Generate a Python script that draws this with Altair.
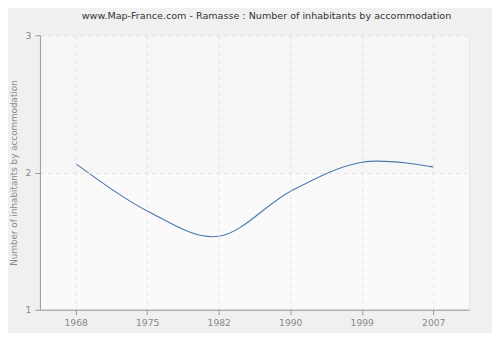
import altair as alt
import pandas as pd

years = ["1968", "1975", "1982", "1990", "1999", "2007"]
values = [2.065, 1.72, 1.535, 1.862, 2.075, 2.04]
band_lo = [2]
band_hi = [3]

df = pd.DataFrame({"year": years, "value": values})
bands = pd.DataFrame({"value": band_lo, "value2": band_hi})

FONT = "DejaVu Sans"

ydom = alt.Scale(domain=[1, 3], nice=False, zero=False)

yaxis = alt.Axis(title="Number of inhabitants by accommodation", tickCount=2,
                 format="d", grid=True, gridDash=[4, 4], gridColor="#e2e2e2",
                 domainColor="#999999", tickColor="#999999", tickSize=5,
                 labelColor="#888888", labelFontSize=9.2, labelFont=FONT,
                 labelPadding=4, titleColor="#888888", titleFontSize=8.8,
                 titleFont=FONT, titleFontWeight="normal", titlePadding=7,
                 labelOverlap=False, zindex=1)

band = alt.Chart(bands).mark_rect(color="#f6f6f6").encode(
    y=alt.Y("value:Q", scale=ydom, axis=yaxis),
    y2="value2:Q",
)

line = alt.Chart(df).mark_line(interpolate="cardinal", color="#4a78ad", strokeWidth=1.1).encode(
    x=alt.X("year:O", scale=alt.Scale(type="point", padding=0.5),
            axis=alt.Axis(title=None, labelAngle=0, grid=True, gridDash=[4, 4],
                          gridColor="#e2e2e2", domainColor="#999999", tickColor="#999999",
                          tickSize=5, labelColor="#888888", labelFontSize=9.2, labelFont=FONT,
                          labelPadding=4, zindex=1)),
    y=alt.Y("value:Q", scale=ydom, axis=yaxis),
)

chart = alt.layer(band, line).properties(
    width=430,
    height=275,
    background="#f0f0f0",
    padding={"left": 32, "top": 27, "right": 23, "bottom": 23},
    autosize=alt.AutoSizeParams(type="none"),
    title=alt.TitleParams(
        "www.Map-France.com - Ramasse : Number of inhabitants by accommodation",
        font=FONT, fontSize=9.6, fontWeight="normal", color="#333333",
        anchor="middle", dx=12, offset=11,
    ),
).configure_view(fill="#fafafa", stroke="#e6e6e6")

chart.save("out.html", embed_options={"renderer": "svg", "actions": False})
